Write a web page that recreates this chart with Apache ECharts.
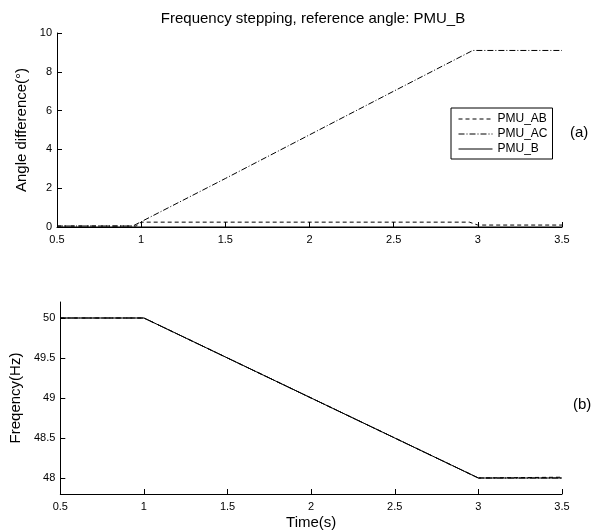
<!DOCTYPE html>
<html>
<head>
<meta charset="utf-8">
<script src="https://cdn.jsdelivr.net/npm/echarts@6/dist/echarts.min.js"></script>
<style>
  html, body { margin: 0; padding: 0; background: #fff; }
  #chart { width: 602px; height: 531px; }
</style>
</head>
<body>
<div id="chart"></div>
<script>
// (a) angle difference: [time, degrees]
const angleAB = [[0.5, 0.05], [0.97, 0.05], [1.0, 0.25], [2.95, 0.25], [3.0, 0.1], [3.5, 0.1]];
const angleAC = [[0.5, 0.05], [0.95, 0.05], [1.5, 2.5], [2.0, 4.75], [2.5, 7.0], [2.97, 9.1], [3.5, 9.1]];
const angleB = [[0.5, 0], [3.5, 0]];

// (b) frequency, [time, Hz]
const freqAB = [[0.5, 50], [1.0, 50], [1.5, 49.5], [2.0, 49], [2.5, 48.5], [3.0, 48], [3.5, 48.01]];
const freqAC = [[0.5, 50], [1.0, 50], [1.5, 49.5], [2.0, 49], [2.5, 48.5], [3.0, 48], [3.5, 48]];
const freqB = [[0.5, 50], [1.0, 50], [1.5, 49.5], [2.0, 49], [2.5, 48.5], [3.0, 48], [3.5, 48]];

const seriesNames = ['PMU_AB', 'PMU_AC', 'PMU_B'];
const lineTypes = [[4, 3], [6, 2, 1, 2], 'solid'];

const font = 'Liberation Sans, Arial, sans-serif';

const chart = echarts.init(document.getElementById('chart'));

const xAxisBase = {
  type: 'value',
  min: 0.5,
  max: 3.5,
  interval: 0.5,
  axisLine: { lineStyle: { color: '#000', width: 1 } },
  axisTick: { inside: true, length: 5, lineStyle: { color: '#000' } },
  axisLabel: { color: '#000', fontSize: 11, fontFamily: font, margin: 7 },
  splitLine: { show: false }
};

const yAxisBase = {
  type: 'value',
  nameLocation: 'middle',
  nameRotate: 90,
  nameTextStyle: { color: '#000', fontSize: 15, fontFamily: font },
  axisLine: { show: true, lineStyle: { color: '#000', width: 1 } },
  axisTick: { show: true, inside: true, length: 5, lineStyle: { color: '#000' } },
  axisLabel: { color: '#000', fontSize: 11, fontFamily: font, margin: 5 },
  splitLine: { show: false }
};

const makeLine = (name, data, i, axisIdx) => ({
  name: name,
  type: 'line',
  xAxisIndex: axisIdx,
  yAxisIndex: axisIdx,
  data: data,
  symbol: 'none',
  lineStyle: { color: '#000', width: 1, type: lineTypes[i] },
  itemStyle: { color: '#000' },
  z: 2 + i
});

const option = {
  animation: false,
  title: [
    {
      text: 'Frequency stepping, reference angle: PMU_B',
      left: 308, top: 6, textAlign: 'center',
      textStyle: { color: '#000', fontSize: 15, fontWeight: 'normal', fontFamily: font }
    },
    {
      text: '(a)', left: 565, top: 120,
      textStyle: { color: '#000', fontSize: 15, fontWeight: 'normal', fontFamily: font }
    },
    {
      text: '(b)', left: 568, top: 392,
      textStyle: { color: '#000', fontSize: 15, fontWeight: 'normal', fontFamily: font }
    }
  ],
  legend: {
    data: seriesNames,
    orient: 'vertical',
    left: 451,
    top: 108,
    itemWidth: 34,
    itemHeight: 12,
    itemGap: 3,
    padding: [5, 5, 4, 7],
    borderColor: '#000',
    borderWidth: 1,
    itemStyle: { opacity: 0 },
    lineStyle: { width: 1 },
    textStyle: { color: '#000', fontSize: 12, fontFamily: font },
    selectedMode: false
  },
  grid: [
    { left: 57, right: 40, top: 33, height: 194 },
    { left: 57, right: 40, top: 302, height: 194 }
  ],
  xAxis: [
    Object.assign({}, xAxisBase, { gridIndex: 0 }),
    Object.assign({}, xAxisBase, {
      gridIndex: 1,
      name: 'Time(s)',
      nameLocation: 'middle',
      nameGap: 21,
      nameTextStyle: { color: '#000', fontSize: 15, fontFamily: font }
    })
  ],
  yAxis: [
    Object.assign({}, yAxisBase, {
      gridIndex: 0, min: 0, max: 10, interval: 2,
      name: 'Angle difference(°)', nameGap: 27
    }),
    Object.assign({}, yAxisBase, {
      gridIndex: 1, min: 47.8, max: 50.2, splitNumber: 5,
      name: 'Freqency(Hz)', nameGap: 31,
      axisLabel: Object.assign({}, yAxisBase.axisLabel, { showMinLabel: false, showMaxLabel: false })
    })
  ],
  series: [
    makeLine('PMU_AB', angleAB, 0, 0),
    makeLine('PMU_AC', angleAC, 1, 0),
    makeLine('PMU_B', angleB, 2, 0),
    makeLine('PMU_AB', freqAB, 0, 1),
    makeLine('PMU_AC', freqAC, 1, 1),
    makeLine('PMU_B', freqB, 2, 1)
  ]
};

chart.setOption(option);
</script>
</body>
</html>
